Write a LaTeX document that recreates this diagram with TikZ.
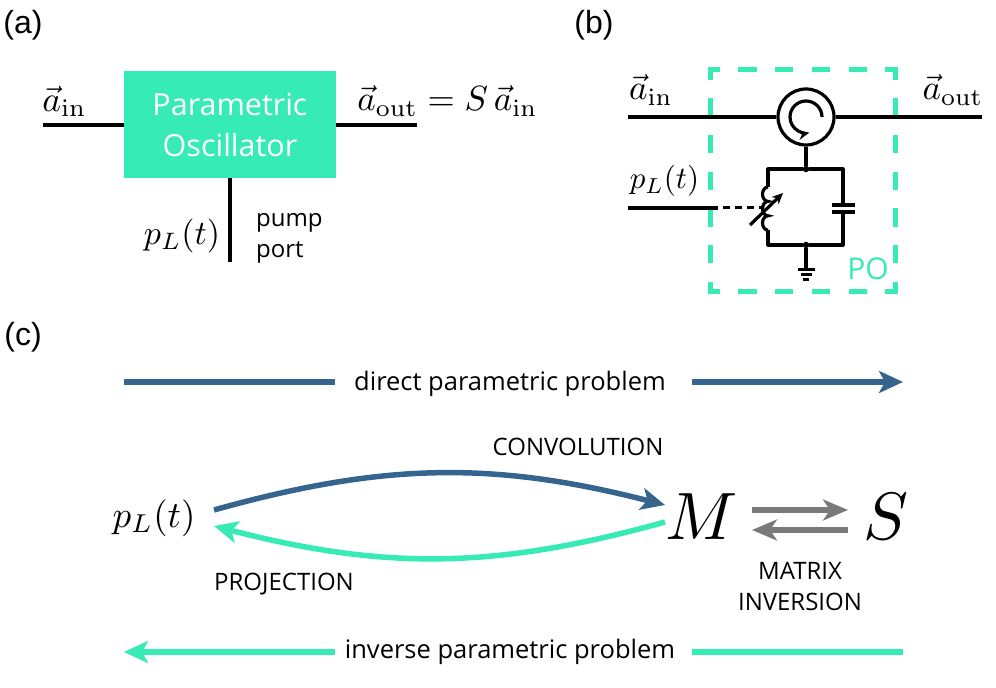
\documentclass[tikz,border=0pt]{standalone}
\usepackage[no-math]{fontspec}
\setmainfont{Open Sans}
\newfontfamily\panelfont{Liberation Sans}
\usetikzlibrary{arrows.meta,positioning}
\definecolor{pogreen}{HTML}{36EBB6}
\definecolor{problue}{HTML}{35658F}
\definecolor{invgray}{HTML}{7A7A7A}
\tikzset{
  wire/.style={line width=3.2pt,black},
  thinwire/.style={line width=3pt,black},
  panel/.style={font=\panelfont\fontsize{32}{32}\selectfont,inner sep=0pt},
  mathlabel/.style={scale=#1,transform shape,inner sep=0pt},
  caption/.style={font=\fontsize{24}{31}\selectfont,inner sep=0pt,align=center},
  problem/.style={font=\fontsize{25.5}{30}\selectfont,inner sep=0pt},
  dashside/.style={pogreen,line width=5pt,line cap=rect,dash pattern=on 13.3pt off 23.4pt,dash phase=5.8pt},
  dot/.style={circle,fill=black,inner sep=0pt,minimum size=6.5pt},
  bluearrow/.style={problue,line width=5.5pt,-{Stealth[length=24pt,width=22pt,inset=6pt]}},
  greenarrow/.style={pogreen,line width=5.5pt,-{Stealth[length=24pt,width=22pt,inset=6pt]}},
  grayarrow/.style={invgray,line width=5.5pt,-{Stealth[length=25pt,width=21pt,inset=7pt]}},
}
\begin{document}
\begin{tikzpicture}[x=1pt,y=1pt]
  \useasboundingbox (0,0) rectangle (996,688);

  % panel (a)
  \node[panel] (labela) at (23,663) {(a)};
  \node[fill=pogreen,minimum width=212pt,minimum height=107pt,inner sep=0pt,text=white,align=center,
        font=\fontsize{30.5}{41}\selectfont] (osc) at (230,563.5) {Parametric\\Oscillator};
  \coordinate (ain) at (43,563);
  \coordinate (aout) at (417,563);
  \coordinate (pump) at (230,426);
  \draw[wire] (ain) -- (ain -| osc.west);
  \draw[wire] (aout -| osc.east) -- (aout);
  \draw[wire] (osc.south) -- (pump);
  \node[mathlabel=3.55] (ainlabel) at (64.5,587) {$\vec a_{\mathrm{in}}$};
  \node[mathlabel=3.5] (aoutlabel) at (447.5,587) {$\vec a_{\mathrm{out}} = S\,\vec a_{\mathrm{in}}$};
  \node[mathlabel=3.4] (pumplabel) at (182,452) {$p_L(t)$};
  \node[caption,align=left,anchor=west] (pumpport) at (256,450) {pump\\port};

  % panel (b)
  \node[panel] (labelb) at (594,663) {(b)};
  \coordinate (tl) at (710,618);
  \coordinate (tr) at (895,618);
  \coordinate (bl) at (710,396);
  \coordinate (br) at (895,396);
  \draw[dashside] (tl) -- (tr);
  \draw[dashside] (tl) -- (bl);
  \draw[dashside] (bl) -- (br);
  \draw[dashside] (tr) -- (br);
  \node[circle,draw,line width=3.2pt,minimum size=56pt,inner sep=0pt] (circ) at (806,571) {};
  \coordinate (bin) at (628,571);
  \coordinate (bout) at (982,571);
  \draw[wire] (bin) -- (circ.west);
  \draw[wire] (circ.east) -- (bout);
  \draw[wire,-{Stealth[length=11pt,width=10pt]}] (822,571) arc (0:282:16);
  \node[dot] (jtop) at (806,519) {};
  \node[dot] (jbot) at (806,443) {};
  \coordinate (gnd) at (806,418);
  \draw[wire] (circ.south) -- (jtop);
  \draw[wire] (jbot) -- (gnd);
  \coordinate (coiltop) at (768,501);
  \coordinate (coilbot) at (768,458);
  \coordinate (captop) at (843,483);
  \coordinate (capbot) at (843,476);
  \draw[wire,line join=round] (coiltop) -- (jtop -| coiltop) -- (jtop) -- (jtop -| captop) -- (captop);
  \draw[wire,line join=round] (coilbot) -- (jbot -| coilbot) -- (jbot) -- (jbot -| capbot) -- (capbot);
  \draw[wire] (coiltop) arc (90:270:5.5 and 7.2) arc (90:270:5.5 and 7.2) arc (90:270:5.5 and 7.2);
  \draw[wire] ([xshift=-11.5pt]captop) -- ([xshift=11.5pt]captop);
  \draw[wire] ([xshift=-11.5pt]capbot) -- ([xshift=11.5pt]capbot);
  \coordinate (tunea) at (750,463);
  \coordinate (tuneb) at (783,495);
  \draw[wire,-{Stealth[length=11pt,width=10pt]}] (tunea) -- (tuneb);
  \coordinate (bpump) at (628,480);
  \coordinate (bpumpend) at (718,480);
  \coordinate (bpumpcoil) at (762,480);
  \draw[wire] (bpump) -- (bpumpend);
  \draw[thinwire,dash pattern=on 6.5pt off 5.5pt] ([xshift=5pt]bpumpend) -- (bpumpcoil);
  \draw[thinwire] ([xshift=-8.5pt]gnd) -- ([xshift=8.5pt]gnd);
  \draw[thinwire] ([xshift=-5.5pt,yshift=-5pt]gnd) -- ([xshift=5.5pt,yshift=-5pt]gnd);
  \draw[thinwire] ([xshift=-3pt,yshift=-10pt]gnd) -- ([xshift=3pt,yshift=-10pt]gnd);
  \node[mathlabel=3.5] (binlabel) at (651,598) {$\vec a_{\mathrm{in}}$};
  \node[mathlabel=3.5] (boutlabel) at (953,598) {$\vec a_{\mathrm{out}}$};
  \node[mathlabel=3.1] (bpumplabel) at (664.5,507) {$p_L(t)$};
  \node[inner sep=0pt,text=pogreen,font=\fontsize{30}{30}\selectfont] (polabel) at (868,419) {PO};

  % panel (c)
  \node[panel] (labelc) at (23,351) {(c)};
  \node[problem] (direct) at (510,304) {direct parametric problem};
  \node[problem] (inverse) at (510,36) {inverse parametric problem};
  \coordinate (dl) at (124,306);
  \coordinate (dr) at (903,306);
  \coordinate (il) at (124,36);
  \coordinate (ir) at (903,36);
  \draw[problue,line width=5.5pt] (dl) -- (335,306);
  \draw[bluearrow] (692,306) -- (dr);
  \draw[pogreen,line width=5.5pt] (ir) -- (692,36);
  \draw[greenarrow] (335,36) -- (il);
  \node[mathlabel=3.7] (pc) at (154,170) {$p_L(t)$};
  \node[mathlabel=6.7] (mm) at (702,171) {$M$};
  \node[mathlabel=6.7] (ss) at (886,171) {$S$};
  \draw[bluearrow] (214,178) to[bend left=15] (665,183);
  \draw[greenarrow] (665,166) to[bend left=15] (214,162);
  \draw[grayarrow] (752,178) -- (848,178);
  \draw[grayarrow] (848,158) -- (752,158);
  \node[caption] (conv) at (578,241) {CONVOLUTION};
  \node[caption] (proj) at (284,104) {PROJECTION};
  \node[caption] (matinv) at (800,101) {MATRIX\\INVERSION};
\end{tikzpicture}
\end{document}
